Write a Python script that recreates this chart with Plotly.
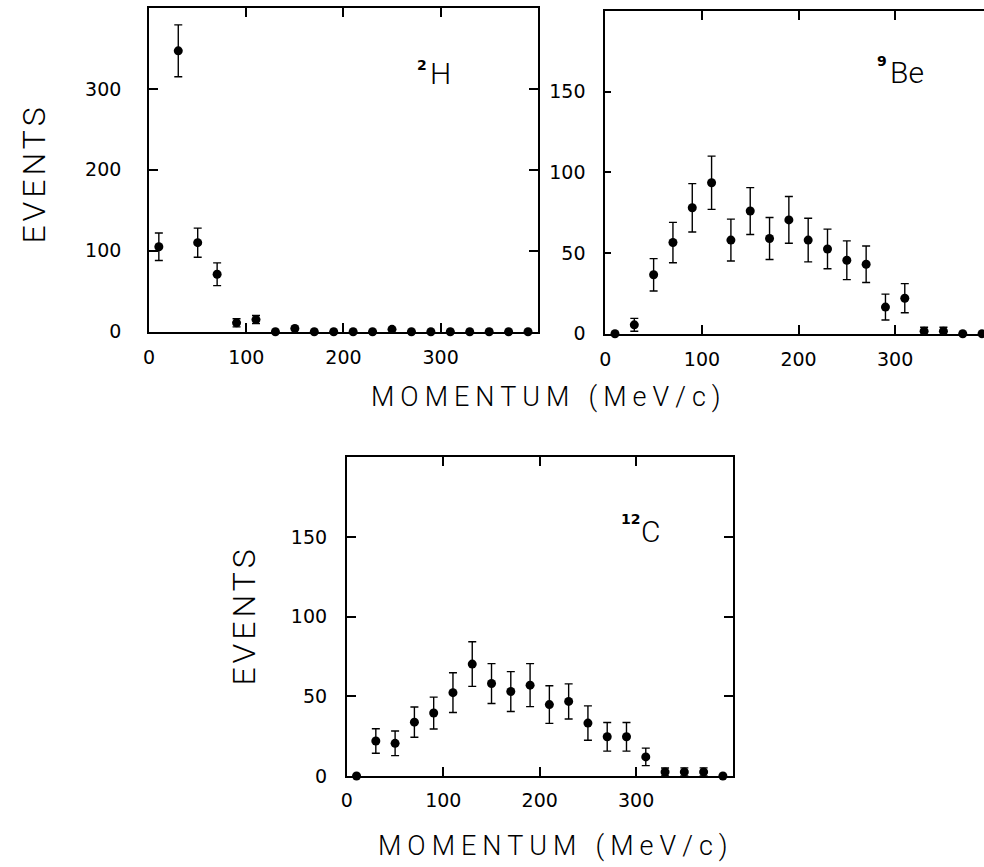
import plotly.graph_objects as go

# Momentum bin centres (MeV/c), shared by all three targets
momentum = [10, 30, 50, 70, 90, 110, 130, 150, 170, 190,
            210, 230, 250, 270, 290, 310, 330, 350, 370, 390]

# Deuterium (2H)
h2_events = [105, 347, 110, 71, 11, 15, 0, 4, 0, 0,
             0, 0, 3, 0, 0, 0, 0, 0, 0, 0]
h2_errors = [17, 32, 18, 14, 5, 5, 0, 0, 0, 0,
             0, 0, 0, 0, 0, 0, 0, 0, 0, 0]

# Beryllium (9Be)
be9_events = [0, 5.5, 36.5, 56.5, 78, 93.5, 58, 76, 59, 70.5,
              58, 52.5, 45.5, 43, 16.5, 22, 1.5, 1.5, 0, 0]
be9_errors = [0, 4, 10, 12.5, 15, 16.5, 13, 14.5, 13, 14.5,
              13.5, 12.3, 12, 11.3, 8, 9, 2.5, 2.5, 0, 0]

# Carbon (12C)
c12_events = [0, 22, 20.5, 33.8, 39.5, 52.3, 70.2, 58, 53, 57,
              44.8, 46.8, 33.2, 24.6, 24.6, 12, 2.5, 2.6, 2.6, 0]
c12_errors = [0, 7.7, 7.7, 9.5, 10, 12.5, 14, 12.5, 12.5, 13.5,
              11.8, 11, 10.8, 9, 9, 5.5, 2.5, 2.5, 2.5, 0]

x_ticks = [0, 100, 200, 300]
h2_yticks = [0, 100, 200, 300]
heavy_yticks = [0, 50, 100, 150]

# target labels: (mass number, symbol)
targets = [("2", "H"), ("9", "Be"), ("12", "C")]

W, H = 984, 867


def px_x(v):
    return v / W


def px_y(v):
    return 1 - v / H


TICK_FONT = dict(family="DejaVu Sans", size=19, color="black")
LABEL_FONT = dict(family="Roboto", size=32, color="black", weight=300)


def spaced(txt, ls):
    return f'<span style="letter-spacing:{ls}px">{txt}</span>'


def axis_style(**kw):
    base = dict(
        showline=True, linecolor="black", linewidth=2,
        ticks="inside", ticklen=9, tickwidth=1.5, tickcolor="black",
        showgrid=False, zeroline=False, tickfont=TICK_FONT,
        tickmode="array",
    )
    base.update(kw)
    return base


def add_series(x, y, err, xa, ya):
    fig.add_trace(go.Scatter(
        x=x, y=y, mode="markers", xaxis=xa, yaxis=ya,
        marker=dict(size=9, color="black"),
        error_y=dict(type="data", array=err, visible=True,
                     color="black", thickness=1.4, width=4),
        cliponaxis=False, showlegend=False,
    ))


fig = go.Figure()
add_series(momentum, h2_events, h2_errors, "x", "y")
add_series(momentum, be9_events, be9_errors, "x2", "y2")
add_series(momentum, c12_events, c12_errors, "x3", "y3")

fig.update_layout(
    width=W, height=H,
    margin=dict(l=0, r=0, t=0, b=0),
    paper_bgcolor="white", plot_bgcolor="white",
    xaxis=axis_style(domain=[px_x(144), px_x(535)], range=[0, 400],
                     anchor="y", mirror="ticks", tickvals=x_ticks,
                     ticklabelstandoff=7),
    yaxis=axis_style(domain=[px_y(336), px_y(8)], range=[0, 400],
                     anchor="x", mirror="ticks", tickvals=h2_yticks,
                     ticklabelstandoff=22),
    xaxis2=axis_style(domain=[px_x(603), 1.0], range=[0, 392],
                      anchor="y2", mirror="ticks", tickvals=x_ticks,
                      ticklabelstandoff=7),
    yaxis2=axis_style(domain=[px_y(338), px_y(11)], range=[0, 200],
                      anchor="x2", mirror=False, ticklen=6,
                      tickvals=heavy_yticks, ticklabelstandoff=14),
    xaxis3=axis_style(domain=[px_x(343), px_x(731)], range=[0, 400],
                      anchor="y3", mirror="ticks", tickvals=x_ticks,
                      ticklabelstandoff=6),
    yaxis3=axis_style(domain=[px_y(786), px_y(463)], range=[0, 200],
                      anchor="x3", mirror="ticks", tickvals=heavy_yticks,
                      ticklabelstandoff=14),
)

momentum_title = spaced("MOMENTUM", 6) + "\u00a0\u00a0" + spaced("(MeV/c)", 6)
MASS_FONT = dict(family="DejaVu Sans", size=14, color="black", weight=700)

annotations = [
    # axis titles
    dict(text=spaced("EVENTS", 4), x=px_x(28), y=px_y(176), textangle=-90),
    dict(text=spaced("EVENTS", 4), x=px_x(240), y=px_y(624), textangle=-90),
    dict(text=momentum_title, x=px_x(546), y=px_y(402), font=dict(LABEL_FONT, size=27)),
    dict(text=momentum_title, x=px_x(553), y=px_y(857), font=dict(LABEL_FONT, size=27)),
]

# target nuclei: mass number raised to the upper left of the element symbol
label_pos = [((419, 66), (425, 74)), ((881.5, 62), (887, 73)), ((628, 526), (637, 538))]
for (mass, sym), ((mx, my), (sx, sy)) in zip(targets, label_pos):
    annotations.append(dict(text=mass, x=px_x(mx), y=px_y(my), font=MASS_FONT))
    annotations.append(dict(text=sym, x=px_x(sx), y=px_y(sy), xanchor="left",
                            font=dict(LABEL_FONT, size=30)))

for a in annotations:
    a.setdefault("xref", "paper")
    a.setdefault("yref", "paper")
    a.setdefault("showarrow", False)
    a.setdefault("xanchor", "center")
    a.setdefault("yanchor", "middle")
    a.setdefault("font", LABEL_FONT)
fig.update_layout(annotations=annotations)

fig.write_html("out.html")
